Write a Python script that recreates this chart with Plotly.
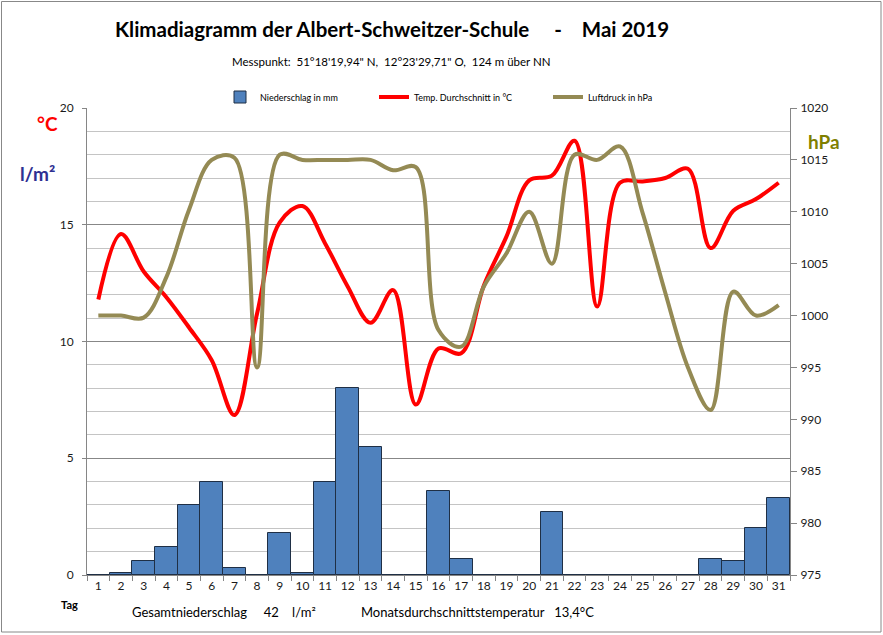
import plotly.graph_objects as go

days = [str(d) for d in range(1, 32)]
niederschlag = [0, 0.1, 0.6, 1.2, 3.0, 4.0, 0.3, 0, 1.8, 0.1, 4.0, 8.0, 5.5, 0, 0, 3.6, 0.7,
                0, 0, 0, 2.7, 0, 0, 0, 0, 0, 0, 0.7, 0.6, 2.0, 3.3]
temperatur = [11.8, 14.6, 13.0, 11.9, 10.6, 9.2, 6.85, 11.2, 15.1, 15.8, 14.2, 12.35, 10.8, 12.2,
              7.3, 9.7, 9.5, 12.4, 14.5, 16.9, 17.1, 18.6, 11.5, 16.8, 16.85, 17.0, 17.4, 14.0,
              15.6, 16.1, 16.8]
luftdruck = [1000.0, 1000.0, 999.8, 1003.7, 1010.2, 1015.0, 1015.2, 995.0, 1015.5, 1015.0, 1015.0,
             1015.0, 1015.0, 1014.0, 1014.3, 998.6, 997.0, 1002.8, 1006.0, 1010.0, 1005.0, 1015.5,
             1015.0, 1016.3, 1009.9, 1002.2, 995.0, 990.9, 1002.3, 1000.0, 1001.0]
left_ticks = [0, 5, 10, 15, 20]
right_ticks = [975, 980, 985, 990, 995, 1000, 1005, 1010, 1015, 1020]

W, H = 883, 635
L, R, T, B = 87, 790, 108, 575
FONT = "Lato"


def px(x):
    return (x - L) / (R - L)


def py(y):
    return (B - y) / (B - T)


fig = go.Figure()
fig.add_trace(go.Bar(
    x=days, y=niederschlag, name="Niederschlag in mm",
    marker=dict(color="#4F81BD", line=dict(color="#1F2F45", width=1)),
    legend="legend", showlegend=True,
))
fig.add_trace(go.Scatter(
    x=days, y=temperatur, name="Temp. Durchschnitt in °C", mode="lines",
    line=dict(color="#FF0000", width=4, shape="spline", smoothing=1.0),
    legend="legend2", showlegend=True,
))
fig.add_trace(go.Scatter(
    x=days, y=luftdruck, name="Luftdruck in hPa", mode="lines", yaxis="y2",
    line=dict(color="#948A54", width=4, shape="spline", smoothing=1.0),
    legend="legend3", showlegend=True,
))

leg_common = dict(orientation="h", yanchor="middle", y=py(97), xanchor="left",
                  font=dict(family=FONT, size=9, color="#000000"),
                  bgcolor="rgba(0,0,0,0)", itemwidth=30, tracegroupgap=0)

fig.update_layout(
    width=W, height=H,
    margin=dict(l=L, r=W - R, t=T, b=H - B, pad=0),
    paper_bgcolor="white", plot_bgcolor="white",
    font=dict(family=FONT, size=12, color="#1A1A1A"),
    bargap=0, showlegend=True,
    legend=dict(x=px(220), **leg_common),
    legend2=dict(x=px(374), **leg_common),
    legend3=dict(x=px(548), **leg_common),
    xaxis=dict(
        type="category", categoryorder="array", categoryarray=days,
        range=[-0.5, 30.5], tickson="boundaries", ticks="outside", ticklen=5,
        tickcolor="#868686", showline=True, linecolor="#868686", linewidth=1,
        showgrid=False, tickangle=0,
        tickfont=dict(family=FONT, size=12, color="#1A1A1A"),
    ),
    yaxis=dict(
        range=[0, 20], tickvals=left_ticks, ticks="outside", ticklen=4,
        tickcolor="#868686", showline=True, linecolor="#868686", linewidth=1,
        showgrid=True, gridcolor="#878787", gridwidth=1, zeroline=False,
        minor=dict(dtick=1, showgrid=True, gridcolor="#C4C4C4", gridwidth=1, ticks=""),
        tickfont=dict(family=FONT, size=12, color="#1A1A1A"), ticklabelstandoff=6,
    ),
    yaxis2=dict(
        range=[975, 1020], tickvals=right_ticks, overlaying="y", side="right",
        ticks="outside", ticklen=6, tickcolor="#868686", showline=True,
        linecolor="#868686", linewidth=1, showgrid=False, zeroline=False,
        tickfont=dict(family=FONT, size=12, color="#1A1A1A"), ticklabelstandoff=1,
    ),
)

nb = "\u00a0"
annots = [
    dict(text="<b>Klimadiagramm der Albert-Schweitzer-Schule" + nb * 5 + "-" + nb * 4 + "Mai 2019</b>",
         x=px(392), y=py(29), size=20.5, color="#000000"),
    dict(text="Messpunkt:" + nb * 2 + "51°18'19,94\" N," + nb * 2 + "12°23'29,71\" O," + nb * 2 + "124 m über NN",
         x=px(391), y=py(62), size=11.5, color="#000000"),
    dict(text="<b>°C</b>", x=px(47), y=py(123), size=19, color="#FF0000"),
    dict(text="<b>l/m²</b>", x=px(37), y=py(173), size=19, color="#2E3092"),
    dict(text="<b>hPa</b>", x=px(824), y=py(141), size=19, color="#7F7F00"),
    dict(text="<b>Tag</b>", x=px(69), y=py(604), size=11, color="#000000"),
    dict(text="Gesamtniederschlag" + nb * 5 + "42" + nb * 4 + "l/m²",
         x=px(224), y=py(612), size=13, color="#000000"),
    dict(text="Monatsdurchschnittstemperatur" + nb * 3 + "13,4°C",
         x=px(477), y=py(612), size=13, color="#000000"),
]
for a in annots:
    fig.add_annotation(text=a["text"], x=a["x"], y=a["y"], xref="paper", yref="paper",
                       xanchor="center", yanchor="middle", showarrow=False,
                       font=dict(family=FONT, size=a["size"], color=a["color"]))

# chart outer border
fig.add_shape(type="rect", xref="paper", yref="paper",
              x0=px(1.5), x1=px(881), y0=py(632), y1=py(1.5),
              line=dict(color="#888888", width=1), fillcolor="rgba(0,0,0,0)", layer="below")

fig.write_html("out.html", config={"displayModeBar": False},
               post_script="document.body.style.margin='0px';")
